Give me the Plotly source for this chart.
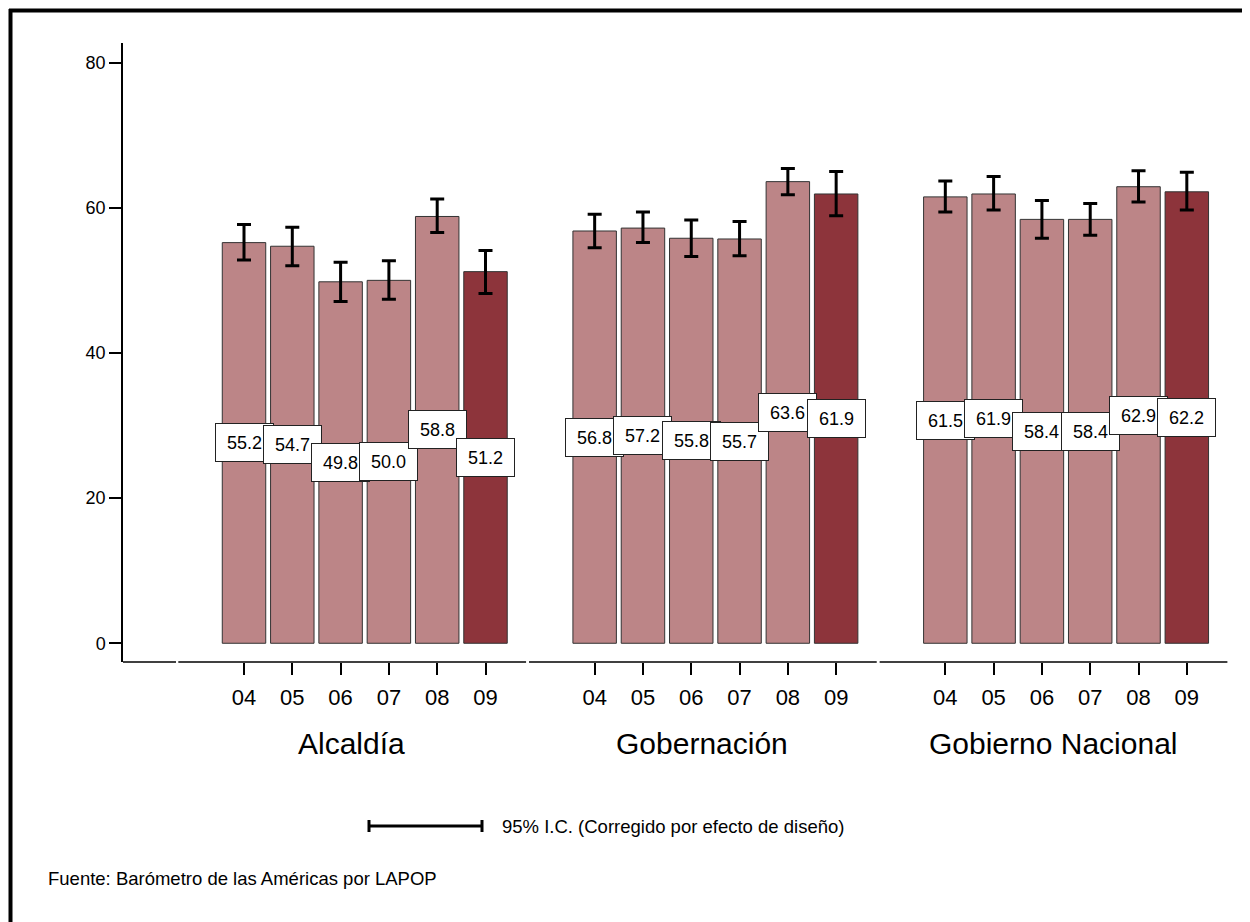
import plotly.graph_objects as go

# data
groups = ["Alcaldía", "Gobernación", "Gobierno Nacional"]
years = ["04", "05", "06", "07", "08", "09"]

alcaldia = [55.2, 54.7, 49.8, 50.0, 58.8, 51.2]
gobernacion = [56.8, 57.2, 55.8, 55.7, 63.6, 61.9]
nacional = [61.5, 61.9, 58.4, 58.4, 62.9, 62.2]

alcaldia_lo = [52.8, 52.0, 47.1, 47.4, 56.6, 48.2]
alcaldia_hi = [57.7, 57.3, 52.5, 52.7, 61.2, 54.1]
gobernacion_lo = [54.5, 55.2, 53.3, 53.4, 61.8, 58.9]
gobernacion_hi = [59.1, 59.4, 58.3, 58.1, 65.4, 65.0]
nacional_lo = [59.4, 59.7, 55.8, 56.2, 60.8, 59.7]
nacional_hi = [63.7, 64.3, 61.0, 60.6, 65.1, 64.9]

values = [alcaldia, gobernacion, nacional]
lows = [alcaldia_lo, gobernacion_lo, nacional_lo]
highs = [alcaldia_hi, gobernacion_hi, nacional_hi]

LIGHT = "#bc8587"
DARK = "#8d343b"
FONT = "Liberation Sans, Arial, sans-serif"

# page has an 8px body margin, so the figure is drawn 8px smaller and offset
OFF = 8
W, H = 1250 - OFF, 922 - OFF
ML, MR, MT, MB = 123 - OFF, 19, 43 - OFF, 260
GROUP_STEP = 7.26

# page pixel -> paper helpers (for frame and legend decoration)
def px(x):
    return (x - OFF - ML) / (W - ML - MR)

def py(y):
    return (H - MB - (y - OFF)) / (H - MT - MB)

xs, ys, up, down, colors, ticktext = [], [], [], [], [], []
for g in range(len(groups)):
    for i, yr in enumerate(years):
        v = values[g][i]
        xs.append(g * GROUP_STEP + i)
        ys.append(v)
        up.append(highs[g][i] - v)
        down.append(v - lows[g][i])
        colors.append(DARK if i == len(years) - 1 else LIGHT)
        ticktext.append(yr)

fig = go.Figure()
fig.add_trace(go.Bar(
    x=xs, y=ys, width=0.9,
    marker=dict(color=colors, line=dict(color="#333333", width=1)),
    error_y=dict(type="data", symmetric=False, array=up, arrayminus=down,
                 color="black", thickness=3, width=7),
    hoverinfo="x+y",
))

# value boxes at half height
for x, v in zip(xs, ys):
    fig.add_annotation(
        x=x, y=v / 2, xref="x", yref="y", text=f"{v:.1f}", showarrow=False,
        font=dict(family=FONT, size=18, color="black"),
        bgcolor="white", bordercolor="#222222", borderwidth=1, borderpad=1,
        width=55, height=35,
    )

# group titles
for g, name in enumerate(groups):
    fig.add_annotation(
        x=g * GROUP_STEP + 2.5 - 0.28, y=py(743), xref="x", yref="paper",
        text=name, showarrow=False, yanchor="middle",
        font=dict(family=FONT, size=30, color="black"),
    )

# x axis drawn as separate segments (one per group, small gaps)
seg_start = -1.39
fig.add_shape(type="line", xref="paper", yref="paper", x0=0, x1=px(176),
              y0=0, y1=0, line=dict(color="black", width=1.5))
for g in range(len(groups)):
    a = seg_start + g * GROUP_STEP + 0.03
    b = seg_start + (g + 1) * GROUP_STEP - 0.03
    fig.add_shape(type="line", xref="x", yref="paper", x0=a, x1=b, y0=0, y1=0,
                  line=dict(color="black", width=1.5))

# outer frame (top and left edges)
fig.add_shape(type="line", xref="paper", yref="paper", x0=px(9), x1=px(1260),
              y0=py(10.5), y1=py(10.5), line=dict(color="black", width=4))
fig.add_shape(type="line", xref="paper", yref="paper", x0=px(10.5), x1=px(10.5),
              y0=py(9), y1=py(930), line=dict(color="black", width=4))

# CI legend
ly = py(826)
fig.add_shape(type="line", xref="paper", yref="paper", x0=px(368), x1=px(483),
              y0=ly, y1=ly, line=dict(color="black", width=3))
for xc in (369, 482):
    fig.add_shape(type="line", xref="paper", yref="paper", x0=px(xc), x1=px(xc),
                  y0=py(820), y1=py(832), line=dict(color="black", width=3))
fig.add_annotation(x=px(500), y=ly, xref="paper", yref="paper",
                   text="95% I.C. (Corregido por efecto de diseño)", showarrow=False,
                   xanchor="left", yanchor="middle",
                   font=dict(family=FONT, size=18.5, color="black"))
fig.add_annotation(x=px(46), y=py(878), xref="paper", yref="paper",
                   text="Fuente: Barómetro de las Américas por LAPOP", showarrow=False,
                   xanchor="left", yanchor="middle",
                   font=dict(family=FONT, size=18.5, color="black"))

x_left = -121 / 48.3
fig.update_layout(
    width=W, height=H,
    margin=dict(l=ML, r=MR, t=MT, b=MB),
    paper_bgcolor="white", plot_bgcolor="white",
    showlegend=False,
    font=dict(family=FONT, color="black"),
    xaxis=dict(
        range=[x_left, x_left + (W - ML - MR) / 48.3],
        tickvals=xs, ticktext=ticktext,
        ticks="outside", ticklen=12, tickwidth=1.5, tickcolor="black",
        tickfont=dict(family=FONT, size=22, color="black"),
        ticklabelstandoff=4,
        showgrid=False, zeroline=False, showline=False,
    ),
    yaxis=dict(
        range=[-2.58, 82.7],
        tickvals=[0, 20, 40, 60, 80],
        ticks="outside", ticklen=12, tickwidth=1.5, tickcolor="black",
        tickfont=dict(family=FONT, size=18, color="black"),
        showgrid=False, zeroline=False,
        showline=True, linecolor="black", linewidth=1.5,
    ),
)

fig.write_html("out.html")
